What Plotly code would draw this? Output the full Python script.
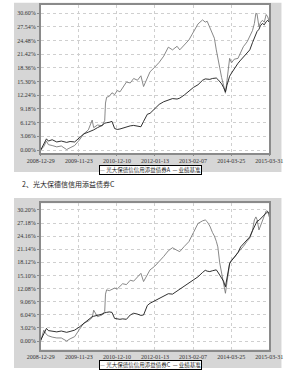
import plotly.graph_objects as go

# x in units of tick intervals (0 = 2008-12-29 ... 6 = 2015-03-31)
t = [0.00, 0.08, 0.15, 0.20, 0.30, 0.42, 0.54, 0.68, 0.77, 0.89,
     1.01, 1.13, 1.25, 1.35, 1.39, 1.49, 1.61, 1.68, 1.70, 1.73,
     1.80, 1.87, 1.94, 2.01, 2.08, 2.15, 2.25, 2.35, 2.44, 2.54,
     2.63, 2.70, 2.80, 2.87, 2.99, 3.11, 3.23, 3.35, 3.46, 3.58,
     3.65, 3.77, 3.89, 4.01, 4.13, 4.25, 4.32, 4.37, 4.44, 4.51,
     4.56, 4.61, 4.65, 4.70, 4.75, 4.80, 4.85, 4.89, 4.94, 4.96,
     5.01, 5.08, 5.18, 5.25, 5.32, 5.42, 5.49, 5.56, 5.61, 5.65,
     5.68, 5.73, 5.77, 5.82, 5.87, 5.92, 5.96, 6.00]

fund_a = [0, 0.8, 2.0, 1.2, 1.0, 0.7, 0.9, 0.1, 0.5, 1.0,
          2.2, 3.6, 4.5, 6.7, 5.0, 5.6, 5.4, 6.6, 10.5, 11.8,
          12.0, 12.8, 12.4, 13.3, 13.0, 14.0, 15.2, 15.0, 16.0, 15.6,
          16.6, 14.2, 16.0, 17.5, 18.5, 19.6, 21.0, 23.0, 22.4, 23.2,
          22.4, 23.5, 24.6, 26.4, 28.2, 29.1, 28.6, 28.8, 27.5, 26.2,
          25.0, 22.4, 20.5, 18.0, 16.2, 14.5, 12.7, 15.5, 19.0, 20.5,
          19.5, 20.3, 20.5, 21.8, 23.1, 24.2, 25.3, 26.7, 28.3, 30.6,
          30.4, 27.6, 28.5, 29.0, 28.6, 30.3, 29.8, 28.7]

bench_a = [0, 1.3, 2.5, 2.0, 2.3, 1.8, 2.0, 1.7, 1.9, 1.8,
           2.6, 3.6, 4.0, 4.3, 4.5, 5.0, 5.5, 6.0, 6.0, 6.1,
           6.2, 6.4, 4.8, 4.6, 4.7, 4.9, 5.1, 5.4, 5.5, 5.3,
           5.2, 6.4, 8.0, 8.2, 9.2, 10.2, 10.8, 11.2, 11.5, 11.4,
           11.6, 12.3, 13.2, 14.0, 14.6, 15.6, 15.9, 15.8, 15.8, 16.0,
           16.0, 16.1, 15.8, 15.4, 14.8, 14.0, 13.0, 14.5, 16.0, 16.5,
           17.2, 18.2, 19.4, 20.1, 20.8, 21.7, 22.4, 24.0, 25.0, 26.1,
           26.5, 27.0, 27.8, 28.3, 28.0, 28.7, 29.0, 28.6]

fund_c = [0, 2.5, 1.5, 1.2, 0.9, 0.7, 0.7, 0.0, 0.5, 1.0,
          2.6, 4.1, 4.6, 5.4, 7.1, 5.6, 6.0, 6.8, 10.8, 11.8,
          11.6, 12.0, 12.2, 12.0, 12.5, 13.2, 13.0, 14.0, 13.8, 14.8,
          15.6, 13.7, 15.2, 16.4, 17.2, 18.3, 19.5, 20.8, 21.5, 20.9,
          20.6, 21.8, 22.9, 25.0, 27.1, 27.7, 27.9, 27.5, 26.5, 25.0,
          24.2, 23.0, 21.7, 18.0, 15.8, 13.2, 11.0, 13.5, 17.1, 17.8,
          18.7, 19.2, 20.4, 21.0, 21.8, 23.0, 23.7, 25.5, 27.9, 28.6,
          28.0, 25.6, 26.5, 27.8, 29.2, 30.0, 29.9, 28.6]

bench_c = [0.2, 1.5, 2.9, 2.4, 2.3, 2.1, 2.3, 2.0, 2.2, 2.5,
           3.2, 4.1, 4.8, 5.6, 5.7, 5.9, 6.2, 6.5, 6.5, 6.6,
           6.7, 6.6, 5.2, 5.1, 5.0, 5.1, 5.0, 6.0, 6.4, 6.2,
           5.9, 6.0, 8.2, 8.7, 9.3, 9.9, 10.4, 10.9, 10.8, 11.5,
           12.1, 12.6, 13.4, 14.1, 14.8, 15.8, 16.3, 16.1, 16.0, 16.2,
           16.3, 16.4, 15.9, 15.2, 14.5, 13.8, 12.5, 14.6, 16.8, 17.9,
           18.5, 19.2, 20.4, 21.7, 22.3, 23.3, 24.0, 25.4, 26.5, 27.2,
           27.6, 27.8, 28.2, 28.5, 29.2, 29.5, 29.8, 29.3]

x_ticks = [0, 1, 2, 3, 4, 5, 6]
x_labels = ["2008-12-29", "2009-11-23", "2010-12-10", "2012-01-13",
            "2013-02-07", "2014-03-25", "2015-03-31"]
y_ticks_a = [0.00, 3.06, 6.12, 9.18, 12.24, 15.30, 18.36, 21.42, 24.48, 27.54, 30.60]
y_ticks_c = [0.00, 3.02, 6.04, 9.06, 12.08, 15.10, 18.12, 21.14, 24.16, 27.18, 30.20]

title_c = "2、光大保德信信用添益债券C"
legend_a = "<span style='color:#777'>—</span> 光大保德信信用添益债券A  <span style='color:#000'>—</span> 业绩基准"
legend_c = "<span style='color:#777'>—</span> 光大保德信信用添益债券C  <span style='color:#000'>—</span> 业绩基准"

W, H = 300, 373
def px(x):
    return x / W
def py(y):
    return 1 - y / H

FONT = "Noto Sans CJK SC, Liberation Sans, sans-serif"
GRAY_LINE = "#7a7a7a"
BLACK_LINE = "#1a1a1a"

fig = go.Figure()
fig.add_trace(go.Scatter(x=t, y=fund_a, mode="lines", line=dict(color=GRAY_LINE, width=0.9),
                         xaxis="x", yaxis="y", showlegend=False))
fig.add_trace(go.Scatter(x=t, y=bench_a, mode="lines", line=dict(color=BLACK_LINE, width=0.9),
                         xaxis="x", yaxis="y", showlegend=False))
fig.add_trace(go.Scatter(x=t, y=fund_c, mode="lines", line=dict(color=GRAY_LINE, width=0.9),
                         xaxis="x2", yaxis="y2", showlegend=False))
fig.add_trace(go.Scatter(x=t, y=bench_c, mode="lines", line=dict(color=BLACK_LINE, width=0.9),
                         xaxis="x2", yaxis="y2", showlegend=False))

xdom = [px(29.5), px(281.5)]
common_x = dict(range=[0, 6], tickvals=x_ticks, ticktext=x_labels, showgrid=True,
                gridcolor="#cfcfcf", griddash="dot", gridwidth=1, zeroline=False,
                showline=True, linecolor="#8a8a8a", linewidth=1.5, mirror=True,
                ticks="outside", ticklen=1, tickcolor="#8a8a8a",
                tickfont=dict(family="Liberation Serif, serif", size=6, color="#333"))
common_y = dict(showgrid=True, gridcolor="#cfcfcf", griddash="dot", gridwidth=1,
                zeroline=False, showline=True, linecolor="#8a8a8a", linewidth=1.5,
                mirror=True, ticks="outside", ticklen=2, tickcolor="#8a8a8a",
                tickfont=dict(family="Liberation Serif, serif", size=6, color="#333"))

fig.update_layout(
    width=W, height=H, margin=dict(l=0, r=0, t=0, b=0),
    paper_bgcolor="white", plot_bgcolor="white",
    xaxis=dict(domain=xdom, anchor="y", **common_x),
    yaxis=dict(domain=[py(153), py(4.7)], anchor="x", range=[-0.67, 32.5],
               tickvals=y_ticks_a, ticktext=["%.2f%%" % v for v in y_ticks_a], **common_y),
    xaxis2=dict(domain=xdom, anchor="y2", **common_x),
    yaxis2=dict(domain=[py(349.5), py(203.3)], anchor="x2", range=[-1.96, 31.74],
                tickvals=y_ticks_c, ticktext=["%.2f%%" % v for v in y_ticks_c], **common_y),
    shapes=[
        dict(type="rect", xref="paper", yref="paper", x0=px(0), x1=px(295), y0=py(172), y1=py(2.7),
             fillcolor="#d6d6d6", line=dict(width=0), layer="below"),
        dict(type="rect", xref="paper", yref="paper", x0=px(0), x1=px(295), y0=py(368), y1=py(198),
             fillcolor="#d6d6d6", line=dict(width=0), layer="below"),
        dict(type="rect", xref="paper", yref="paper", x0=xdom[0], x1=xdom[1], y0=py(153), y1=py(4.7),
             fillcolor="white", line=dict(width=0), layer="below"),
        dict(type="rect", xref="paper", yref="paper", x0=xdom[0], x1=xdom[1], y0=py(349.5), y1=py(203.3),
             fillcolor="white", line=dict(width=0), layer="below"),
    ],
    annotations=[
        dict(text=legend_a, xref="paper", yref="paper", x=px(150), y=py(169.5), xanchor="center",
             yanchor="middle", showarrow=False, bgcolor="white", bordercolor="#000", borderwidth=1,
             borderpad=0, font=dict(family=FONT, size=5.5, color="#222")),
        dict(text=legend_c, xref="paper", yref="paper", x=px(150), y=py(364.5), xanchor="center",
             yanchor="middle", showarrow=False, bgcolor="white", bordercolor="#000", borderwidth=1,
             borderpad=0, font=dict(family=FONT, size=5.5, color="#222")),
        dict(text=title_c, xref="paper", yref="paper", x=px(7), y=py(184), xanchor="left",
             yanchor="middle", showarrow=False, font=dict(family=FONT, size=7, color="#222")),
    ],
)

fig.write_html("out.html")
